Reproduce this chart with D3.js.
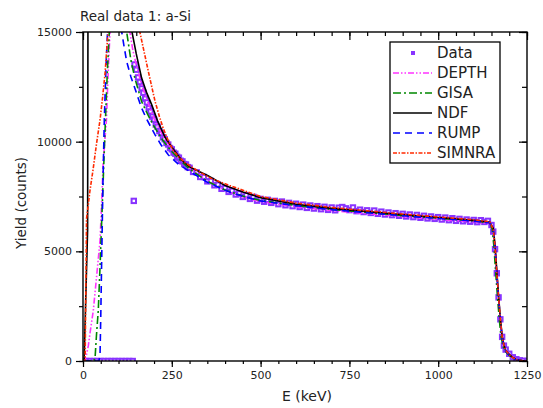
<!DOCTYPE html>
<html>
<head>
<meta charset="utf-8">
<script src="https://cdn.jsdelivr.net/npm/d3@7"></script>
<style>
  body { margin: 0; background: #fff; }
  text { font-family: "DejaVu Sans", sans-serif; fill: #222; }
</style>
</head>
<body>
<div id="chart-container"></div>
<script>
// measured spectrum (energy in keV, yield in counts)
const dataE = [0,10,20,30,40,50,60,70,80,90,100,110,120,130,140,143,
  145,150,155,160,165,170,175,180,185,190,195,200,205,210,215,220,225,230,235,240,
  245,250,255,260,265,270,275,280,285,290,295,300,
  310,320,330,340,350,360,370,380,390,400,410,420,430,440,450,460,470,480,490,500,
  510,520,530,540,550,560,570,580,590,600,610,620,630,640,650,660,670,680,690,700,
  710,720,730,740,750,760,770,780,790,800,810,820,830,840,850,860,870,880,890,900,
  910,920,930,940,950,960,970,980,990,1000,1010,1020,1030,1040,1050,1060,1070,1080,1090,1100,
  1110,1120,1130,1140,1150,1155,1160,1165,1170,1175,1180,1185,1190,1200,1210,1220,1230,1240,1250];
const dataY = [0,0,0,0,0,0,0,0,0,0,0,0,0,0,0,7300,
  13520,13280,12930,12720,12430,12230,11960,11790,11530,11380,11140,11010,10780,10680,10480,10380,10200,10110,9940,9870,
  9710,9650,9500,9450,9310,9270,9130,9100,8980,8960,8840,8810,
  8620,8600,8390,8390,8190,8210,8010,8040,7850,7890,7710,7760,7590,7640,7480,7560,7390,7480,7310,7390,
  7260,7350,7210,7300,7150,7270,7100,7210,7060,7170,7020,7130,6980,7090,6950,7060,6920,7030,6890,7000,
  6870,6990,7020,6960,6880,7000,6830,6900,6790,6870,6750,6860,6710,6810,6680,6770,6650,6740,6620,6710,
  6590,6680,6560,6660,6530,6620,6500,6590,6480,6560,6450,6540,6420,6510,6390,6480,6370,6450,6350,6430,
  6330,6420,6340,6390,6200,5900,5100,4000,2900,1900,1100,700,520,330,170,80,30,10,0];

// simulated spectra, [E, yield]; points above 15000 are off the top of the plot
const depthCurve = [[0,0],[5,0],[10,300],[15,700],[20,1300],[29,2300],[38,3800],[48,5500],[52,7000],[57,9100],
  [66,11000],[71,13200],[76,15000],[80,16000],[127,16000],[132,15000],[140,14200],[150,13500],[165,12600],[180,11900],
  [200,11050],[225,10250],[250,9650],[280,9100],[300,8800],[350,8220],[400,7780],[450,7480],[500,7270],[600,7030],
  [700,6860],[800,6720],[900,6580],[1000,6460],[1100,6340],[1145,6270],[1155,5950],[1160,5200],[1165,4000],[1170,2900],
  [1175,1900],[1180,1100],[1185,700],[1190,500],[1200,320],[1210,170],[1220,80],[1235,25],[1250,0]];
const gisaCurve = [[0,0],[30,0],[34,150],[38,1200],[43,2300],[48,4300],[52,6100],[57,8300],[62,10500],[68,13000],
  [74,15000],[78,16000],[118,16000],[123,15000],[135,13700],[146,12900],[165,11830],[185,11150],[203,10615],[225,10050],
  [250,9550],[280,9050],[300,8750],[350,8200],[400,7800],[450,7520],[500,7320],[600,7090],[700,6910],[800,6770],
  [900,6630],[1000,6510],[1100,6390],[1145,6310],[1152,6000],[1157,5200],[1162,4000],[1167,2900],[1172,1900],[1177,1100],
  [1183,650],[1190,420],[1200,260],[1210,130],[1220,50],[1235,12],[1250,0]];
const ndfCurve = [[0,0],[3,0],[13,6000],[14,16000],[130,16000],[138,15000],[150,14000],[165,12900],[180,12200],[193,11700],
  [210,10950],[231,10200],[250,9750],[278,9150],[300,8850],[352,8450],[400,8000],[450,7700],[500,7450],[600,7150],
  [700,6960],[800,6810],[900,6670],[1000,6540],[1100,6410],[1145,6330],[1155,6050],[1160,5300],[1165,4100],[1170,2950],
  [1175,1950],[1180,1150],[1185,730],[1190,490],[1200,300],[1210,160],[1220,70],[1235,20],[1250,0]];
const rumpCurve = [[0,0],[45,0],[48,300],[50,2000],[53,5000],[56,8000],[60,11000],[65,13500],[69,15000],[72,16000],
  [104,16000],[109,15000],[115,14400],[123,13650],[135,12950],[146,12440],[155,12000],[165,11530],[180,11000],[203,10310],
  [220,9850],[240,9400],[270,8950],[300,8650],[350,8150],[400,7780],[450,7500],[500,7300],[600,7080],[700,6900],
  [800,6760],[900,6620],[1000,6500],[1100,6380],[1145,6300],[1155,5950],[1160,5150],[1165,3950],[1170,2850],[1175,1850],
  [1180,1050],[1185,650],[1190,450],[1200,280],[1210,140],[1220,60],[1235,15],[1250,0]];
const simnraCurve = [[0,0],[6,0],[10,6500],[14,7000],[19,7700],[29,8800],[38,9900],[48,11000],[55,12000],[62,13100],
  [70,14900],[72,15200],[150,16500],[160,15000],[172,14100],[184,13200],[195,12400],[203,11830],[215,11150],[226,10600],
  [240,10050],[254,9600],[270,9300],[287,9050],[320,8700],[360,8330],[413,8000],[500,7500],[600,7200],[700,7000],
  [800,6850],[900,6700],[1000,6570],[1100,6440],[1145,6350],[1155,6000],[1160,5200],[1165,4000],[1170,2900],[1175,1900],
  [1180,1100],[1185,700],[1190,480],[1200,300],[1210,150],[1220,60],[1235,15],[1250,0]];

const xTicks = [0, 250, 500, 750, 1000, 1250];
const yTicks = [0, 5000, 10000, 15000];

const series = [
  {name: "DEPTH", data: depthCurve, color: "#ff33ff", dash: "6,2,1.5,2,1.5,2"},
  {name: "GISA", data: gisaCurve, color: "#008800", dash: "8,3,2,3"},
  {name: "NDF", data: ndfCurve, color: "#000000", dash: null},
  {name: "RUMP", data: rumpCurve, color: "#0000ff", dash: "7,5"},
  {name: "SIMNRA", data: simnraCurve, color: "#ff2a00", dash: "4,1.5,1.5,1.5"}
];
const dataColor = "#8833ff";

const width = 543, height = 408;
const plot = {left: 83, right: 527, top: 32, bottom: 361};

const svg = d3.select("#chart-container").append("svg")
  .attr("width", width)
  .attr("height", height);

let x = d3.scaleLinear().domain([0, 1250]).range([plot.left, plot.right]);
let y = d3.scaleLinear().domain([0, 15000]).range([plot.bottom, plot.top]);

svg.append("clipPath").attr("id", "clip-plot")
  .append("rect")
  .attr("x", plot.left).attr("y", plot.top)
  .attr("width", plot.right - plot.left).attr("height", plot.bottom - plot.top);

// measured points: small hollow squares
let pts = svg.append("g").attr("clip-path", "url(#clip-plot)");
pts.selectAll("rect")
  .data(dataE.map((e, i) => [e, dataY[i]]))
  .enter().append("rect")
  .attr("x", d => x(d[0]) - 2.2)
  .attr("y", d => y(d[1]) - 2.2)
  .attr("width", 4.4).attr("height", 4.4)
  .attr("fill", "#fff")
  .attr("stroke", dataColor)
  .attr("stroke-width", 2);

let line = d3.line().x(d => x(d[0])).y(d => y(d[1]));

let lines = svg.append("g").attr("clip-path", "url(#clip-plot)");
lines.selectAll("path")
  .data(series).enter().append("path")
  .attr("d", d => line(d.data))
  .attr("fill", "none")
  .attr("stroke", d => d.color)
  .attr("stroke-width", 1.6)
  .attr("stroke-dasharray", d => d.dash);

// axes: labelled majors + minor ticks on all four sides
function minor(axis, vals, size) {
  return axis.tickValues(vals).tickSize(size).tickFormat("");
}
const xMinor = d3.range(0, 1251, 50), yMinor = d3.range(0, 15001, 2500);

svg.append("g").attr("transform", "translate(0," + plot.bottom + ")")
  .call(minor(d3.axisBottom(x), xMinor, 3));
svg.append("g").attr("class", "xaxis").attr("transform", "translate(0," + plot.bottom + ")")
  .call(d3.axisBottom(x).tickValues(xTicks).tickSize(6).tickPadding(4).tickFormat(d3.format("d")));
svg.append("g").attr("transform", "translate(0," + plot.top + ")")
  .call(minor(d3.axisBottom(x), xMinor, 4));
svg.append("g").attr("transform", "translate(0," + plot.top + ")")
  .call(minor(d3.axisBottom(x), xTicks, 8));

svg.append("g").attr("transform", "translate(" + plot.left + ",0)")
  .call(minor(d3.axisLeft(y), yMinor, 4));
svg.append("g").attr("class", "yaxis").attr("transform", "translate(" + plot.left + ",0)")
  .call(d3.axisLeft(y).tickValues(yTicks).tickSize(7).tickPadding(4).tickFormat(d3.format("d")));
svg.append("g").attr("transform", "translate(" + plot.right + ",0)")
  .call(minor(d3.axisLeft(y), yMinor, 5));
svg.append("g").attr("transform", "translate(" + plot.right + ",0)")
  .call(minor(d3.axisLeft(y), yTicks, 8));

svg.selectAll(".domain").remove();
svg.selectAll(".tick line").attr("stroke", "#000").attr("stroke-width", 1.2);
svg.selectAll(".tick text").style("font-size", "11px").style("font-family", "DejaVu Sans").attr("fill", "#222");

svg.append("rect")
  .attr("x", plot.left).attr("y", plot.top)
  .attr("width", plot.right - plot.left).attr("height", plot.bottom - plot.top)
  .attr("fill", "none").attr("stroke", "#000").attr("stroke-width", 1.4);

// titles
svg.append("text").attr("x", 80).attr("y", 21)
  .style("font-size", "13.5px").text("Real data 1: a-Si");
svg.append("text").attr("x", 307).attr("y", 401)
  .attr("text-anchor", "middle").style("font-size", "14px").text("E (keV)");
svg.append("text").attr("transform", "translate(26,203) rotate(-90)")
  .attr("text-anchor", "middle").style("font-size", "13.5px").text("Yield (counts)");

// legend
let legend = svg.append("g");
legend.append("rect")
  .attr("x", 390).attr("y", 42).attr("width", 110).attr("height", 121)
  .attr("fill", "#fff").attr("stroke", "#000").attr("stroke-width", 1.3);

legend.append("rect")
  .attr("x", 411).attr("y", 51).attr("width", 4).attr("height", 4)
  .attr("fill", dataColor);
legend.append("text").attr("x", 437).attr("y", 53).attr("dy", "0.36em")
  .style("font-size", "15px").text("Data");

series.forEach((s, i) => {
  let ly = 73 + i * 20;
  legend.append("line")
    .attr("x1", 393).attr("x2", 432).attr("y1", ly).attr("y2", ly)
    .attr("stroke", s.color).attr("stroke-width", 1.5)
    .attr("stroke-dasharray", s.dash);
  legend.append("text").attr("x", 437).attr("y", ly).attr("dy", "0.36em")
    .style("font-size", "15px").text(s.name);
});
</script>
</body>
</html>
